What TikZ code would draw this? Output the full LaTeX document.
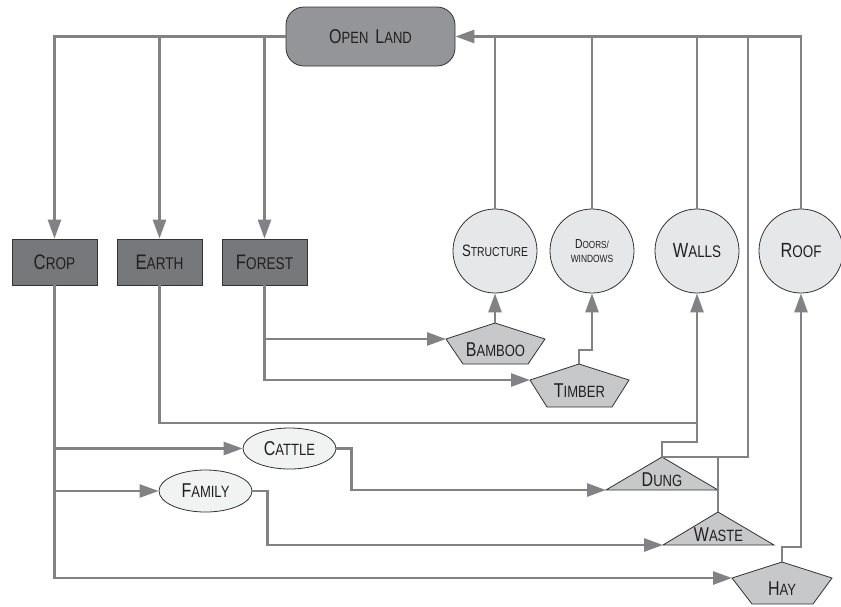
\documentclass[tikz,border=0pt]{standalone}
\usepackage{fontspec}
\setmainfont[FakeStretch=0.8]{Liberation Sans}
\usetikzlibrary{arrows.meta,shapes.geometric}
\definecolor{linegray}{HTML}{808285}
\definecolor{landfill}{HTML}{939598}
\definecolor{boxfill}{HTML}{77787B}
\definecolor{circfill}{HTML}{E6E7E8}
\definecolor{polyfill}{HTML}{C7C8CA}
\definecolor{ellfill}{HTML}{F1F2F2}
\definecolor{inkc}{HTML}{231F20}
\definecolor{edgec}{HTML}{333333}
\newcommand{\SCC}[4]{{\fontsize{#1}{#1}\selectfont #3}{\fontsize{#2}{#2}\selectfont #4}}
\newcommand{\Sc}[2]{\SCC{20pt}{16.3pt}{#1}{#2}}
\tikzset{
  shp/.style={draw=edgec, line width=0.8pt, text=inkc, inner sep=0pt},
  landbox/.style={shp, fill=landfill, rounded corners=18pt, minimum width=169pt, minimum height=59pt},
  srcbox/.style={shp, fill=boxfill, minimum width=85pt, minimum height=46pt},
  partcirc/.style={shp, circle, fill=circfill, minimum size=84pt},
  animell/.style={shp, ellipse, fill=ellfill, minimum width=93pt, minimum height=41pt},
  polyshape/.style={draw=edgec, line width=0.8pt, fill=polyfill},
  lbl/.style={text=inkc, inner sep=0pt},
  conn/.style={draw=linegray, line width=2.6pt},
  arr/.style={conn, -{Triangle[length=19pt,width=13pt]}}
}
\begin{document}
\begin{tikzpicture}[x=1pt,y=-1pt]
\useasboundingbox (0,0) rectangle (841,606);
\fill[white] (0,0) rectangle (841,606);

% polygons (drawn first)
\coordinate (bambooT) at (495,323);
\coordinate (bambooL) at (446,339);
\filldraw[polyshape] (bambooT) -- (545,339) -- (528,364) -- (463,364) -- (bambooL) -- cycle;
\coordinate (timberT) at (579,364);
\coordinate (timberL) at (530,380);
\filldraw[polyshape] (timberT) -- (629,380) -- (612,407) -- (547,407) -- (timberL) -- cycle;
\coordinate (hayT) at (782,562);
\coordinate (hayL) at (732,578);
\filldraw[polyshape] (hayT) -- (832,578) -- (813,604) -- (752,604) -- (hayL) -- cycle;
\coordinate (dungT) at (662,457);
\coordinate (dungL) at (606,490);
\filldraw[polyshape] (dungT) -- (718,490) -- (dungL) -- cycle;
\coordinate (wasteT) at (718,512);
\coordinate (wasteL) at (663,545);
\filldraw[polyshape] (wasteT) -- (774,545) -- (wasteL) -- cycle;

% nodes
\node[landbox] (openland) at (370.5,36.5) {\Sc{O}{PEN}\hspace{7pt}\Sc{L}{AND}};
\node[srcbox] (crop) at (54.5,262) {\SCC{21pt}{17pt}{C}{ROP}};
\node[srcbox] (earth) at (159.5,262) {\SCC{21pt}{17pt}{E}{ARTH}};
\node[srcbox] (forest) at (264.5,262) {\SCC{21pt}{17pt}{F}{OREST}};
\node[partcirc] (structure) at (495,251) {\SCC{16.5pt}{13pt}{S}{TRUCTURE}};
\node[partcirc, align=center, font=\fontsize{10.5pt}{14.4pt}\selectfont] (doors) at (592,251) {\SCC{13pt}{10.2pt}{D}{OORS/}\\WINDOWS};
\node[partcirc] (walls) at (697,251) {\SCC{20.5pt}{16.8pt}{W}{ALLS}};
\node[partcirc] (roof) at (801,251) {\SCC{20.5pt}{16.8pt}{R}{OOF}};
\node[animell] (cattle) at (289.5,448.5) {\Sc{C}{ATTLE}};
\node[animell, minimum height=42pt] (family) at (205.5,491) {\Sc{F}{AMILY}};
\node[lbl] (bamboo) at (495.5,350) {\Sc{B}{AMBOO}};
\node[lbl] (timber) at (579.5,391) {\Sc{T}{IMBER}};
\node[lbl] (hay) at (782,589) {\Sc{H}{AY}};
\node[lbl] (dung) at (662,480) {\Sc{D}{UNG}};
\node[lbl] (waste) at (718.5,534.5) {\Sc{W}{ASTE}};

% top-left distribution from open land
\draw[arr] (openland.west) -| (crop.north);
\draw[arr] (earth.north |- openland.west) -- (earth.north);
\draw[arr] (forest.north |- openland.west) -- (forest.north);

% returns to open land
\draw[arr] (roof.north) |- (openland.east);
\draw[conn] (structure.north) -- (structure.north |- openland.east);
\draw[conn] (doors.north) -- (doors.north |- openland.east);
\draw[conn] (walls.north) -- (walls.north |- openland.east);
\coordinate (dj) at (748,457);
\draw[conn] (dungT) -- (dj) -- (dj |- openland.east);
\draw[conn] (wasteT) -- (wasteT |- dj);

% walls inputs
\coordinate (dw) at (697,442);
\draw[arr] (dungT) |- (dw) -- (walls.south);
\draw[conn] (earth.south) |- (walls.south |- 0,423);

% forest products
\draw[arr] (forest.south) |- (bambooL);
\draw[arr] (forest.south) |- (timberL);
\draw[arr] (bambooT) -- (structure.south);
\draw[arr] (timberT) -- ++(0,-14) -| (doors.south);

% hay to roof
\draw[arr] (hayT) -- ++(0,-15) -| (roof.south);

% crop outputs
\draw[arr] (crop.south) |- (hayL);
\draw[arr] (crop.south |- cattle.west) -- (cattle.west);
\draw[arr] (crop.south |- family.west) -- (family.west);

% animals and family
\draw[arr] (cattle.east) -- ++(15,0) |- (dungL);
\draw[arr] (family.east) -- ++(15,0) |- (wasteL);
\end{tikzpicture}
\end{document}
